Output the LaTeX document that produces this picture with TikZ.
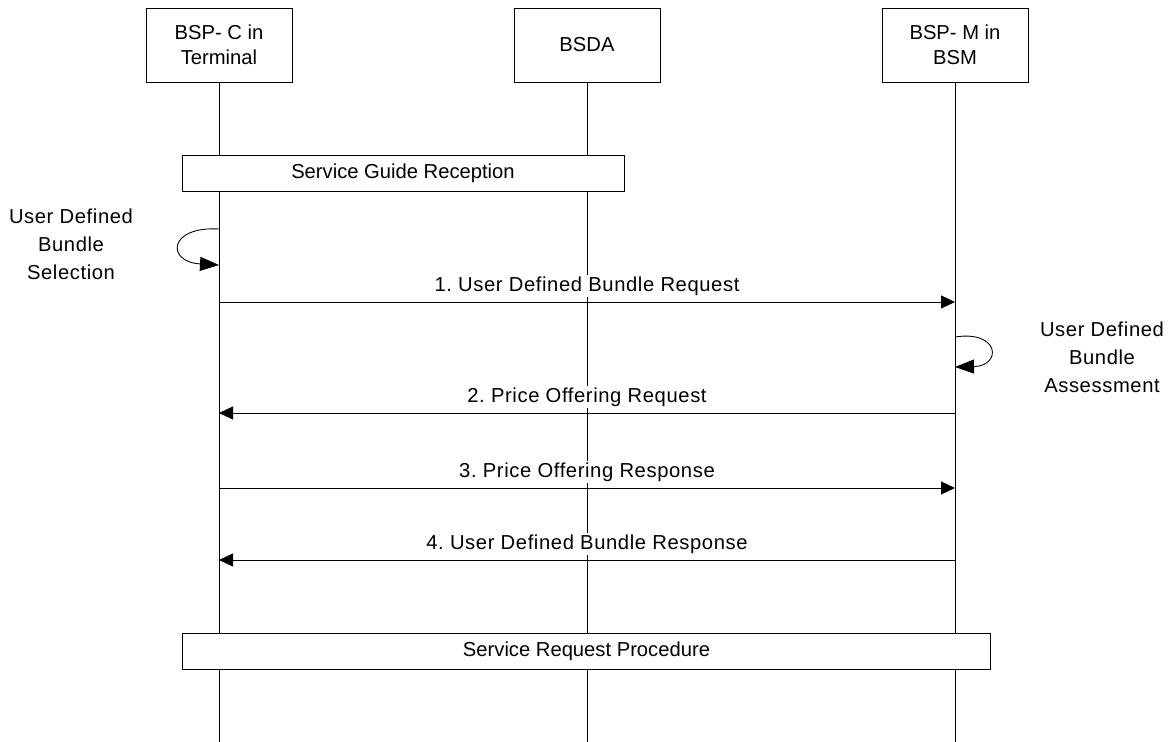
\documentclass[tikz,border=0pt]{standalone}
\usepackage{fontspec}
\setmainfont{Liberation Sans}
\newfontfamily\widefont[LetterSpace=3]{Liberation Sans}
\usetikzlibrary{arrows.meta,positioning}

\tikzset{
  entity/.style={draw, minimum width=2.92cm, minimum height=1.48cm, align=center},
  phase/.style={draw, fill=white, minimum height=0.72cm, inner sep=0pt},
  msg/.style={-{Triangle[length=0.28cm, width=0.26cm]}},
  selfmsg/.style={-{Triangle[length=0.38cm, width=0.28cm]}},
  msglabel/.style={midway, above=2.6pt, fill=white, inner sep=1pt, font=\widefont\fontsize{11.5}{14}\selectfont},
  note/.style={align=center, font=\widefont\fontsize{11.5}{16}\selectfont}
}

\begin{document}
\begin{tikzpicture}[x=0.02cm, y=-0.02cm, font=\fontsize{11.5}{14}\selectfont, line width=0.5pt]
\useasboundingbox (0,0) rectangle (1169,742);

% participants
\node[entity] (term) at (219,45) {BSP- C in\\Terminal};
\node[entity] (bsda) at (587,45) {BSDA};
\node[entity] (bsm) at (955,45) {BSP- M in\\BSM};

% lifelines
\coordinate (termend) at (219,742);
\coordinate (bsdaend) at (587,742);
\coordinate (bsmend) at (955,742);
\draw (term.south) -- (termend);
\draw (bsda.south) -- (bsdaend);
\draw (bsm.south) -- (bsmend);

% phases
\node[phase, minimum width=8.84cm] (sgr) at (403,173) {Service Guide Reception};
\node[phase, minimum width=16.18cm] (srp) at (586.5,651.5) {Service Request Procedure};

% bundle selection in the terminal
\coordinate (sel1) at (219,229);
\coordinate (sel2) at (219,265);
\draw[selfmsg] (sel1) .. controls (168,226) and (166,262) .. (sel2);
\node[note] (sellabel) at (71,244) {User Defined\\Bundle\\Selection};

% 1. request
\coordinate (m1a) at (219,302);
\coordinate (m1b) at (955,302);
\draw[msg] (m1a) -- node[msglabel] {1.\ User Defined Bundle Request} (m1b);

% assessment in the BSM
\coordinate (ass1) at (955,337);
\coordinate (ass2) at (955,367);
\draw[selfmsg] (ass1) .. controls (1000,330) and (1002,366) .. (ass2);
\node[note] (asslabel) at (1102,357) {User Defined\\Bundle\\Assessment};

% 2.-4.
\coordinate (m2a) at (955,413);
\coordinate (m2b) at (219,413);
\draw[msg] (m2a) -- node[msglabel] {2.\ Price Offering Request} (m2b);

\coordinate (m3a) at (219,488);
\coordinate (m3b) at (955,488);
\draw[msg] (m3a) -- node[msglabel] {3.\ Price Offering Response} (m3b);

\coordinate (m4a) at (955,560);
\coordinate (m4b) at (219,560);
\draw[msg] (m4a) -- node[msglabel] {4.\ User Defined Bundle Response} (m4b);
\end{tikzpicture}
\end{document}
